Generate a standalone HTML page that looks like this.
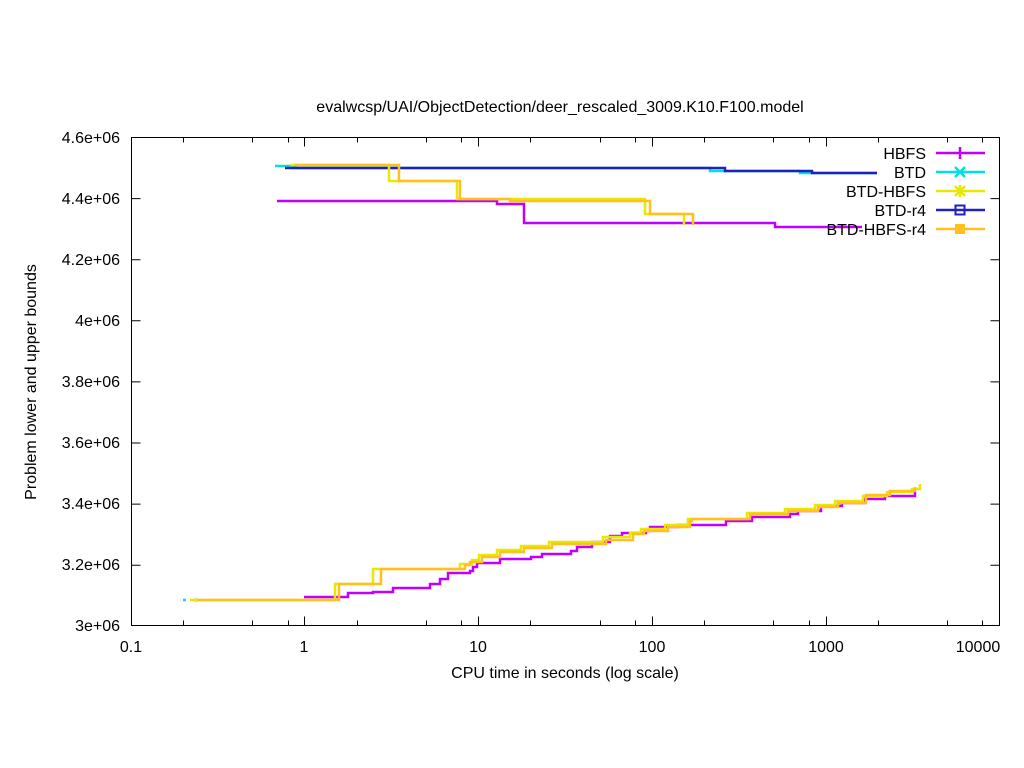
<!DOCTYPE html>
<html><head><meta charset="utf-8"><style>
html,body{margin:0;padding:0;background:#fff}
svg{display:block}
text{font-family:"Liberation Sans",Arial,sans-serif;font-size:16px;fill:#000}
</style></head><body>
<svg width="1024" height="768" viewBox="0 0 1024 768" xmlns="http://www.w3.org/2000/svg">
<rect width="1024" height="768" fill="#fff"/>
<text x="560" y="112" text-anchor="middle">evalwcsp/UAI/ObjectDetection/deer_rescaled_3009.K10.F100.model</text>
<g stroke="#000" stroke-width="1" fill="none">
<rect x="131.5" y="137.5" width="868" height="488"/>
<path d="M131.5 137.5h9M131.5 198.6h9M131.5 259.7h9M131.5 320.8h9M131.5 381.9h9M131.5 443h9M131.5 504.1h9M131.5 565.2h9
M999.5 198.6h-9M999.5 259.7h-9M999.5 320.8h-9M999.5 381.9h-9M999.5 443h-9M999.5 504.1h-9M999.5 565.2h-9
M304.5 625.5v-9M478.5 625.5v-9M652.5 625.5v-9M826.5 625.5v-9
M304.5 137.5v9M478.5 137.5v9M652.5 137.5v9M826.5 137.5v9
M183.5 625.5v-5M252.5 625.5v-5M288.5 625.5v-5M357.5 625.5v-5M426.5 625.5v-5M461.5 625.5v-5M530.5 625.5v-5M600.5 625.5v-5M635.5 625.5v-5M704.5 625.5v-5M773.5 625.5v-5M809.5 625.5v-5M878.5 625.5v-5M947.5 625.5v-5M982.5 625.5v-5
M183.5 137.5v5M252.5 137.5v5M288.5 137.5v5M357.5 137.5v5M426.5 137.5v5M461.5 137.5v5M530.5 137.5v5M600.5 137.5v5M635.5 137.5v5M704.5 137.5v5M773.5 137.5v5M809.5 137.5v5M878.5 137.5v5M947.5 137.5v5M982.5 137.5v5"/>
</g>
<g text-anchor="end">
<text x="120" y="143">4.6e+06</text><text x="120" y="204">4.4e+06</text><text x="120" y="265">4.2e+06</text>
<text x="120" y="326">4e+06</text><text x="120" y="387">3.8e+06</text><text x="120" y="448">3.6e+06</text>
<text x="120" y="509">3.4e+06</text><text x="120" y="570">3.2e+06</text><text x="120" y="631">3e+06</text>
</g>
<g text-anchor="middle">
<text x="131" y="652">0.1</text><text x="304" y="652">1</text><text x="478" y="652">10</text>
<text x="652" y="652">100</text><text x="826" y="652">1000</text><text x="978" y="652">10000</text>
<text x="565" y="678">CPU time in seconds (log scale)</text>
</g>
<text transform="translate(36,382) rotate(-90)" text-anchor="middle">Problem lower and upper bounds</text>
<g fill="none" stroke-width="2.5">
<path stroke="#00e0e0" d="M275 166H296V168H710V171H800V173H877"/>
<path stroke="#00e0e0" d="M183 600H186"/>
<path stroke="#2020c0" d="M285 168H725V171H812V173H877"/>
<path stroke="#2020c0" d="M194 600H198"/>
<path stroke="#c000ff" d="M277 201H497V204H524V223H775V227H862"/>
<path stroke="#c000ff" d="M304 597H348V593H373V592H393V588H430V584H440V579H448V573H470V571H473V567H477V563H500V559H531V557H542V554H571V551H577V547H592V542H610V536H622V533H646V531H650V527H678V525H726V521H752V517H790V514H798V511H821V506H842V503H865V499H885V496H915V492"/>
<path stroke="#e8e800" d="M290 165H389V181H457V199H645V214H684V225"/>
<path stroke="#e8e800" d="M190 600H335V584H373V569H460V564H472V560H479V555H497V550H521V546H549V542H603V537H630V533H641V529H665V525H688V519H747V513H785V509H815V505H835V501H863V496H887V492H912V489H920V484"/>
<path stroke="#ffc020" d="M295 165H399V181H460V199H510V201H650V214H693V225"/>
<path stroke="#ffc020" d="M198 600H339V584H381V569H465V565H470V562H482V557H500V552H524V548H552V544H606V540H633V534H644V531H668V527H690V521H692V519H750V514H788V511H818V507H838V503H866V495H890V491H915V487"/>
</g>
<g text-anchor="end">
<text x="926" y="159">HBFS</text><text x="926" y="178">BTD</text><text x="926" y="197">BTD-HBFS</text>
<text x="926" y="216">BTD-r4</text><text x="926" y="235">BTD-HBFS-r4</text>
</g>
<g stroke-width="2.5" fill="none">
<path stroke="#c000ff" d="M936 153H985M960 147V159"/>
<path stroke="#00e0e0" d="M936 172H985M955 167l10 10M965 167l-10 10"/>
<path stroke="#e8e800" d="M936 191H985M955 186l10 10M965 186l-10 10M960 185V197"/>
<path stroke="#2020c0" d="M936 210H985"/><rect x="955.5" y="205.5" width="9" height="9" stroke="#2020c0" stroke-width="2"/>
<path stroke="#ffc020" d="M936 229H985"/><rect x="955" y="224" width="10" height="10" fill="#ffc020" stroke="none"/>
</g>
</svg>
</body></html>
